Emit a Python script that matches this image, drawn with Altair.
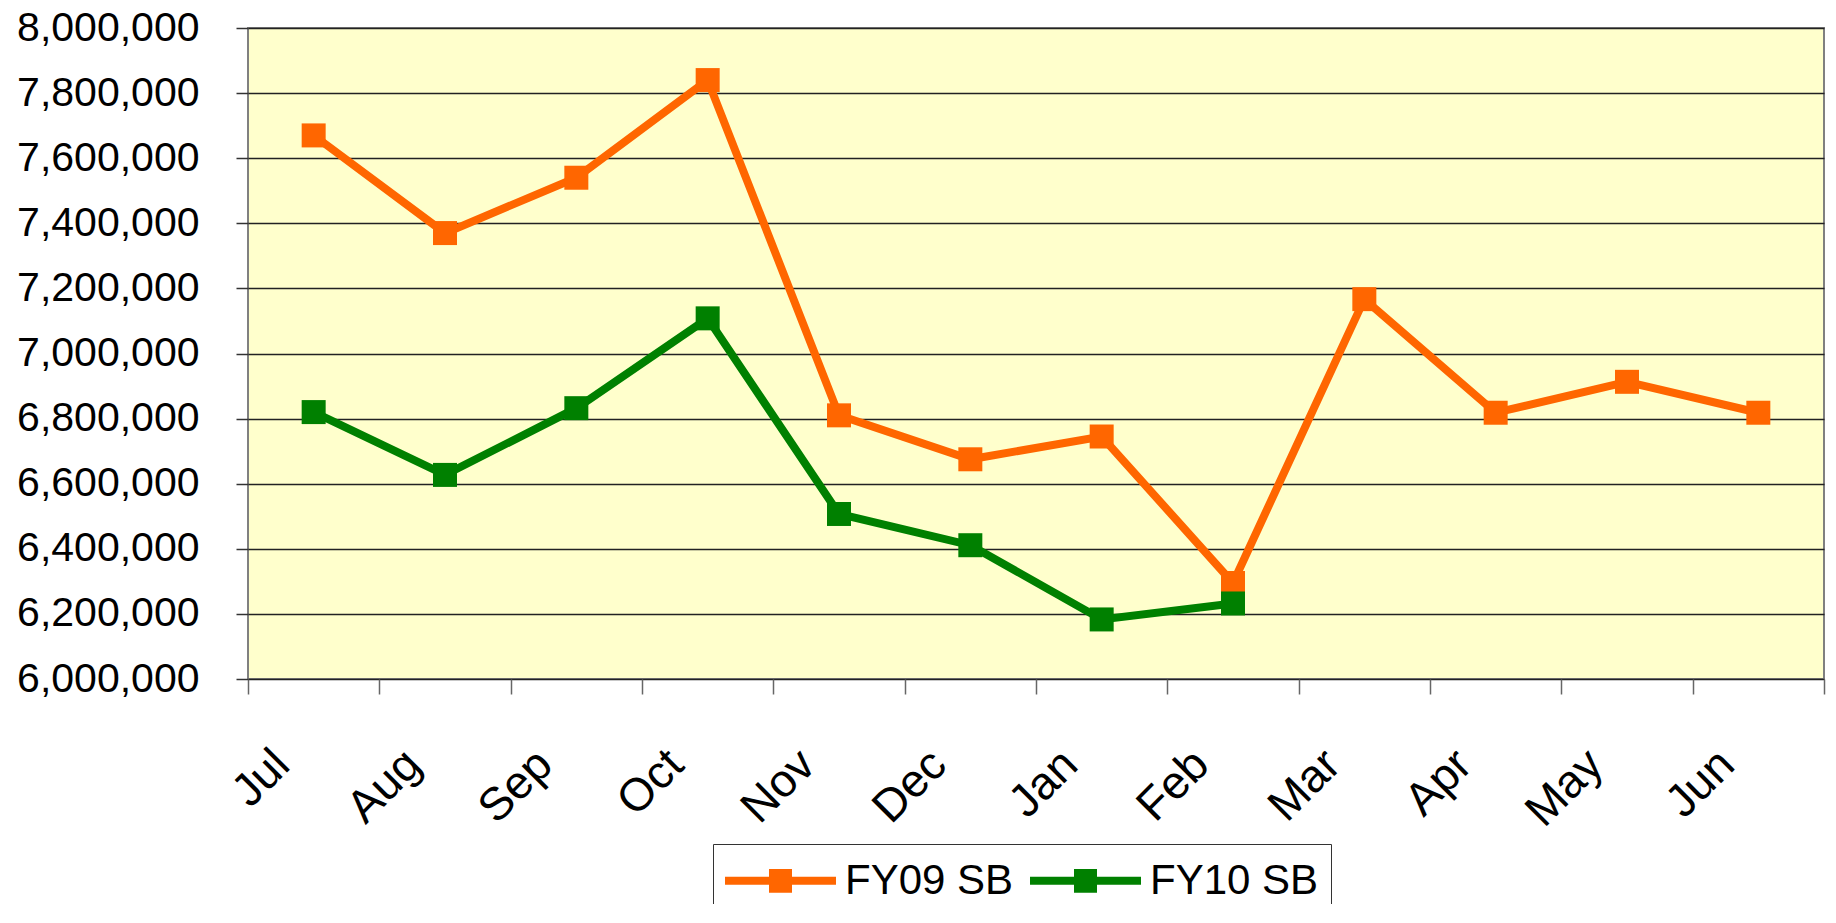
import altair as alt
import pandas as pd

months = ["Jul", "Aug", "Sep", "Oct", "Nov", "Dec", "Jan", "Feb", "Mar", "Apr", "May", "Jun"]
fy09_values = [7670000, 7370000, 7540000, 7840000, 6810000, 6675000,
               6745000, 6295000, 7167000, 6818000, 6913000, 6818000]
fy10_values = [6820000, 6627000, 6832000, 7108000, 6507000, 6411000,
               6183000, 6232000]
series_names = ["FY09 SB", "FY10 SB"]
series_colors = ["#FF6600", "#008000"]
y_ticks = [6000000, 6200000, 6400000, 6600000, 6800000, 7000000,
           7200000, 7400000, 7600000, 7800000, 8000000]

rows = []
for m, v in zip(months, fy09_values):
    rows.append({"month": m, "series": series_names[0], "value": v})
for m, v in zip(months, fy10_values):
    rows.append({"month": m, "series": series_names[1], "value": v})
df = pd.DataFrame(rows)

FONT = "Liberation Sans, Arial, sans-serif"
# legend symbol: a horizontal line with a filled square drawn from strokes
legend_path = ("M-2.707,0H2.707"
               "M-0.561,-0.38H0.561M-0.561,-0.127H0.561"
               "M-0.561,0.127H0.561M-0.561,0.38H0.561")

chart = alt.Chart(df).mark_line(
    strokeWidth=8,
    point=alt.OverlayMarkDef(shape="square", size=576, filled=True, opacity=1, strokeWidth=0),
).encode(
    x=alt.X(
        "month:N",
        sort=months,
        bandPosition=0.5,
        scale=alt.Scale(type="band", paddingInner=0, paddingOuter=0),
        axis=alt.Axis(
            title=None,
            domain=False,
            grid=False,
            tickBand="extent",
            tickSize=15,
            tickColor="#666666",
            tickWidth=1.5,
            labelAngle=315,
            labelAlign="right",
            labelBaseline="middle",
            labelFont=FONT,
            labelFontSize=46,
            labelColor="#000000",
            labelPadding=63,
            labelOffset=-32,
            labelLimit=400,
        ),
    ),
    y=alt.Y(
        "value:Q",
        scale=alt.Scale(domain=[6000000, 8000000], nice=False, zero=False),
        axis=alt.Axis(
            title=None,
            domain=False,
            values=y_ticks,
            format=",d",
            grid=True,
            gridColor="#222222",
            gridWidth=1.3,
            tickSize=12,
            tickColor="#333333",
            tickWidth=1.5,
            labelFont=FONT,
            labelFontSize=41,
            labelColor="#000000",
            labelPadding=37,
            labelLimit=400,
        ),
    ),
    color=alt.Color(
        "series:N",
        scale=alt.Scale(domain=series_names, range=series_colors),
        legend=alt.Legend(
            title=None,
            orient="none",
            legendX=465,
            legendY=816,
            direction="horizontal",
            columns=2,
            symbolType=legend_path,
            symbolSize=1681,
            symbolStrokeWidth=8,
            symbolOffset=31,
            labelFont=FONT,
            labelFontSize=42,
            labelColor="#000000",
            labelOffset=40,
            labelLimit=400,
            columnPadding=0,
            padding=12,
            strokeColor="#333333",
            fillColor="#FFFFFF",
        ),
    ),
).properties(
    width=1576,
    height=651,
    autosize=alt.AutoSizeParams(type="none"),
    padding={"left": 240, "top": 20, "right": 4, "bottom": 225},
    background="#FFFFFF",
).configure_view(
    fill="#FFFFCC",
    stroke="#808080",
    strokeWidth=2,
)

chart.save("out.html", embed_options={"renderer": "svg", "actions": False})
